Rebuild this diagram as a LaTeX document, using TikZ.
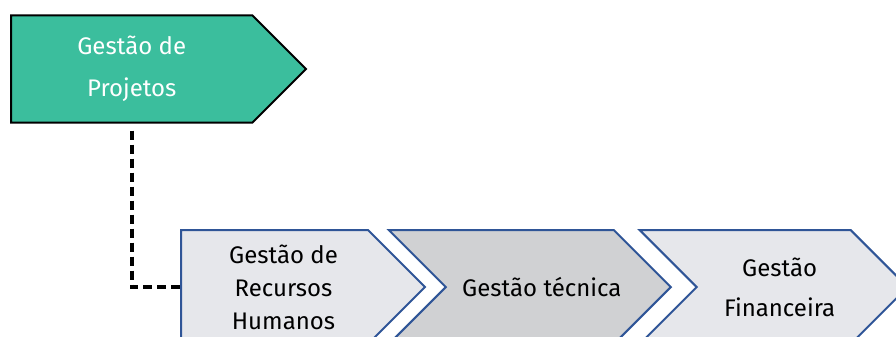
\documentclass[tikz,border=0pt]{standalone}
\usepackage{xcolor}
\usepackage{fontspec}
\setmainfont{Fira Sans}
\usepackage{tikz}
\usetikzlibrary{shapes,positioning,calc}

\definecolor{projteal}{HTML}{3BBE9D}
\definecolor{chevgray}{HTML}{E6E7EB}
\definecolor{chevdark}{HTML}{D0D1D3}
\definecolor{chevblue}{HTML}{2F5597}

\begin{document}
\begin{tikzpicture}[
    x=1pt, y=-1pt,
    node distance=18pt,
    head/.style={signal, signal to=east, draw=black, line width=2pt, fill=projteal,
        minimum width=295pt, minimum height=107pt, align=center, text=white,
        font=\fontsize{24}{42}\selectfont},
    chev/.style={signal, signal to=east, draw=chevblue, line width=2pt, fill=chevgray,
        minimum height=114pt},
    every label/.style={align=center, font=\fontsize{24}{33}\selectfont},
    link/.style={line width=3.5pt, dash pattern=on 9pt off 5pt}
]
    \useasboundingbox (0,0) rectangle (896,337);
    \clip (0,0) rectangle (896,337);

    % Project management
    \node[head, anchor=west] (proj) at (10,69) {Gestão de\\Projetos};

    % Process chain
    \node[chev, minimum width=244pt, anchor=west,
        label={[xshift=9pt]center:Gestão de\\Recursos\\Humanos}] (hr) at (180,287) {};
    \node[chev, signal from=west, fill=chevdark, minimum width=282pt, right=of hr,
        label={[xshift=12pt]center:Gestão técnica}] (tech) {};
    \node[chev, signal from=west, minimum width=268pt, right=23pt of tech,
        label={[xshift=6pt, font=\fontsize{24}{40}\selectfont]center:Gestão\\Financeira}] (fin) {};

    % Link
    \draw[link] ([yshift=-7pt]proj.south -| proj.center) |- (hr.west);
\end{tikzpicture}
\end{document}
